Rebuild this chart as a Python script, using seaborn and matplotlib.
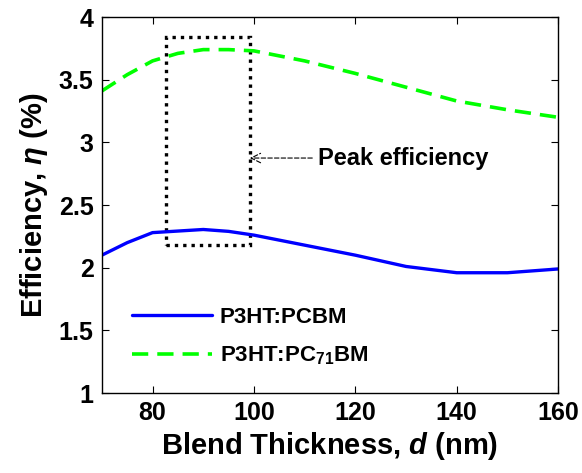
import numpy as np
import pandas as pd
import matplotlib
matplotlib.use('Agg')
import matplotlib.pyplot as plt
import seaborn as sns
from matplotlib.patches import Rectangle

# data
thick_pcbm = [70, 75, 80, 90, 95, 100, 110, 120, 130, 140, 150, 160]
eff_pcbm = [2.10, 2.20, 2.28, 2.305, 2.29, 2.26, 2.18, 2.10, 2.01, 1.96, 1.96, 1.99]

thick_pc71 = [70, 75, 80, 85, 90, 95, 100, 110, 120, 130, 140, 150, 160]
eff_pc71 = [3.41, 3.54, 3.65, 3.71, 3.74, 3.74, 3.73, 3.65, 3.55, 3.44, 3.33, 3.26, 3.20]

peak_box = (82.7, 99.2, 2.18, 3.84)  # x0, x1, y0, y1

sns.set_style('ticks')
plt.rcParams['font.family'] = ['Liberation Sans', 'DejaVu Sans']
plt.rcParams['font.weight'] = 'bold'
plt.rcParams['mathtext.fontset'] = 'custom'
plt.rcParams['mathtext.rm'] = 'Liberation Sans:bold'
plt.rcParams['mathtext.it'] = 'Liberation Sans:bold:italic'
plt.rcParams['mathtext.bf'] = 'Liberation Sans:bold'
for k in ['text.color', 'axes.labelcolor', 'xtick.color', 'ytick.color', 'axes.edgecolor']:
    plt.rcParams[k] = 'black'

df1 = pd.DataFrame({'d': thick_pcbm, 'eff': eff_pcbm})
df2 = pd.DataFrame({'d': thick_pc71, 'eff': eff_pc71})

fig = plt.figure(figsize=(5.82, 4.73), dpi=100)
ax = fig.add_axes([0.175, 0.169, 0.784, 0.795])

sns.lineplot(data=df1, x='d', y='eff', ax=ax, color='#0000ff', lw=2.4,
             label='P3HT:PCBM')
sns.lineplot(data=df2, x='d', y='eff', ax=ax, color='#00ff00', lw=2.6,
             label=r'P3HT:PC$_{\mathbf{71}}$BM')
ax.lines[1].set_dashes([4.5, 2.5])

x0, x1, y0, y1 = peak_box
ax.add_patch(Rectangle((x0, y0), x1 - x0, y1 - y0, fill=False, ec='black',
                       lw=2.4, ls=(0, (1, 1.5))))

ax.annotate('Peak efficiency', xy=(x1, 2.875), xytext=(112.7, 2.875),
            fontsize=17, fontweight='bold', va='center', ha='left',
            arrowprops=dict(arrowstyle='->', lw=0.8, ls=(0, (4, 2)), color='black',
                            shrinkA=2, shrinkB=0))

ax.set_xlim(70, 160)
ax.set_ylim(1, 4)
ax.set_xticks([80, 100, 120, 140, 160])
ax.set_yticks([1, 1.5, 2, 2.5, 3, 3.5, 4])
ax.set_yticklabels(['1', '1.5', '2', '2.5', '3', '3.5', '4'])
ax.tick_params(direction='in', top=True, right=True, length=5, width=0.8,
               labelsize=18, pad=6)
for lab in ax.get_xticklabels() + ax.get_yticklabels():
    lab.set_fontweight('bold')
for s in ax.spines.values():
    s.set_linewidth(1.0)
    s.set_visible(True)

ax.set_xlabel(r'Blend Thickness, $\it{d}$ (nm)', fontsize=21, fontweight='bold', labelpad=3)
ax.set_ylabel(r'Efficiency, $\eta$ (%)', fontsize=21, fontweight='bold', labelpad=6)

leg = ax.legend(loc='lower left', bbox_to_anchor=(0.022, 0.015), frameon=False,
                handlelength=3.6, handletextpad=0.35, labelspacing=0.75,
                prop={'weight': 'bold', 'size': 16})

fig.savefig('out.png', dpi=100)
